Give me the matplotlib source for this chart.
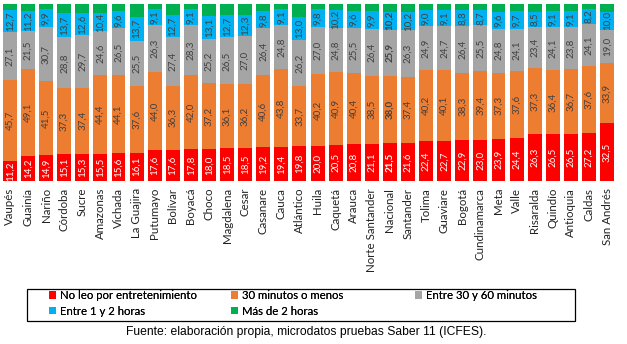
import matplotlib
matplotlib.use("Agg")
import matplotlib.pyplot as plt
from matplotlib.patches import Rectangle
import numpy as np

categories = ["Vaupés", "Guainía", "Nariño", "Córdoba", "Sucre", "Amazonas", "Vichada",
              "La Guajira", "Putumayo", "Bolívar", "Boyacá", "Choco", "Magdalena", "Cesar",
              "Casanare", "Cauca", "Atlántico", "Huila", "Caquetá", "Arauca",
              "Norte Santander", "Nacional", "Santander", "Tolima", "Guaviare", "Bogotá",
              "Cundinamarca", "Meta", "Valle", "Risaralda", "Quindío", "Antioquia",
              "Caldas", "San Andrés"]

no_leo = [11.2, 14.2, 14.9, 15.1, 15.3, 15.5, 15.6, 16.1, 17.6, 17.6, 17.8, 18.0, 18.5, 18.5,
          19.2, 19.4, 19.8, 20.0, 20.5, 20.8, 21.1, 21.5, 21.6, 22.4, 22.7, 22.9, 23.0, 23.9,
          24.4, 26.3, 26.5, 26.5, 27.2, 32.5]
min30 = [45.7, 49.1, 41.5, 37.3, 37.4, 44.4, 44.1, 37.6, 44.0, 36.3, 42.0, 37.2, 36.1, 36.2,
         40.6, 43.8, 33.7, 40.2, 40.9, 40.4, 38.5, 38.0, 37.4, 40.2, 40.1, 38.3, 39.4, 37.3,
         37.6, 37.3, 36.4, 36.7, 37.6, 33.9]
min30_60 = [27.1, 21.5, 30.7, 28.8, 29.7, 24.6, 26.5, 25.5, 26.3, 27.4, 28.3, 25.2, 26.5, 27.0,
            26.4, 24.8, 26.2, 27.0, 24.8, 25.5, 26.4, 25.9, 26.3, 24.9, 24.7, 26.4, 25.5, 24.8,
            24.1, 23.4, 24.1, 23.8, 24.1, 19.0]
h1_2 = [12.7, 11.2, 9.9, 13.7, 12.6, 10.4, 9.6, 13.7, 9.1, 12.7, 9.1, 13.1, 12.7, 12.3,
        9.8, 9.1, 13.0, 9.8, 10.2, 9.6, 9.9, 10.2, 10.2, 9.0, 9.1, 8.8, 8.7, 9.6,
        9.7, 8.5, 9.1, 9.1, 8.2, 10.0]
mas2 = [3.3, 4.0, 3.0, 5.1, 5.0, 5.1, 4.2, 7.1, 3.0, 6.0, 2.8, 6.5, 6.2, 6.0,
        4.0, 2.9, 7.3, 3.0, 3.6, 3.7, 4.1, 4.4, 4.5, 3.5, 3.4, 3.6, 3.4, 4.4,
        4.2, 4.5, 3.9, 3.9, 2.9, 4.6]

series_names = ["No leo por entretenimiento", "30 minutos o menos", "Entre 30 y 60 minutos",
                "Entre 1 y 2 horas", "Más de 2 horas"]
series = [no_leo, min30, min30_60, h1_2, mas2]
colors = ["#FF0000", "#ED7D31", "#A5A5A5", "#00B0F0", "#00B050"]
label_colors = ["white", "#404040", "#404040", "#404040", None]

W, H = 627, 344
fig = plt.figure(figsize=(6.27, 3.44), dpi=100)
# plot area: bars span from y=4 px to y=181 px (top-down)
ax = fig.add_axes([0.0, 1 - 181 / H, 617 / W, 177 / H])

x = np.arange(len(categories))
bottom = np.zeros(len(categories))
handles = []
for vals, col, lc, name in zip(series, colors, label_colors, series_names):
    vals = np.array(vals)
    b = ax.bar(x, vals, bottom=bottom, width=0.77, color=col, label=name, linewidth=0)
    handles.append(b)
    if lc is not None:
        for xi, bi, v, cat in zip(x, bottom, vals, categories):
            ax.text(xi, bi + v / 2, f"{v:.1f}".replace(".", ","), rotation=90,
                    ha="center", va="center", fontsize=7, color=lc,
                    family="Lato", fontweight="bold" if cat == "Nacional" else "normal")
    bottom += vals

ax.set_xlim(-0.55, len(categories) - 0.45)
ax.set_ylim(0, 100)
ax.set_xticks(x)
ax.set_xticklabels(categories, rotation=90, fontsize=8.3, family="Lato", color="#222222")
ax.tick_params(axis="x", length=0, pad=5)
ax.set_yticks([])
for s in ax.spines.values():
    s.set_visible(False)

# legend frame box
fig.patches.append(Rectangle((27 / W, 1 - 321 / H), (575 - 27) / W, 32 / H,
                             transform=fig.transFigure, fill=False, edgecolor="black",
                             linewidth=0.9))

# legend laid out in equal-width columns (row-wise order like the original)
columns = [[0, 3], [1, 4], [2]]
col_x = [49, 231, 415]
for idxs, cx in zip(columns, col_x):
    lg = fig.legend(handles=[handles[i] for i in idxs],
                    labels=[series_names[i] for i in idxs], loc="upper left",
                    bbox_to_anchor=(cx / W, 1 - 290 / H), ncol=1, frameon=False,
                    handlelength=0.65, handleheight=0.65, handletextpad=0.3,
                    borderaxespad=0, labelspacing=0.4, borderpad=0,
                    prop={"family": "Lato", "size": 8.2})
    fig.add_artist(lg)

fig.text(306 / W, 9 / H, "Fuente: elaboración propia, microdatos pruebas Saber 11 (ICFES).",
         ha="center", va="baseline", fontsize=8.7, family="Liberation Sans")

fig.savefig("out.png", dpi=100)
